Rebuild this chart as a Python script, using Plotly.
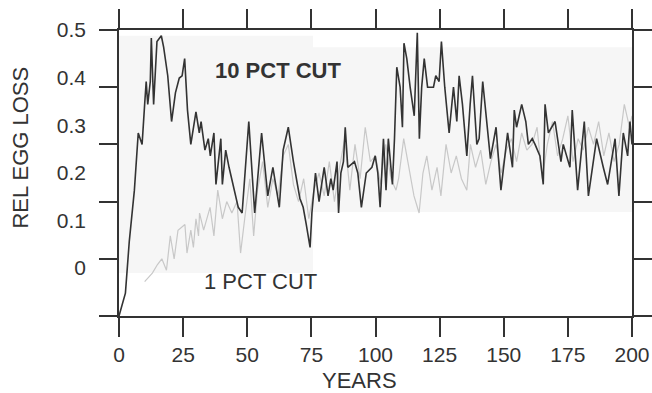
import plotly.graph_objects as go

# ---- data ----
years_10 = [0, 2.5, 4, 6, 7.5, 8.3, 9, 10, 10.6, 11.2, 12.2, 12.6, 13.5, 14.8, 16.5, 17.4, 19, 20.5, 22, 23.5,
            24.6, 25.6, 26.2, 26.7, 28, 30, 31.3, 32, 33.5, 34.8, 35.6, 37, 37.8, 39.7, 40.3, 41.6, 42.9, 44,
            46.5, 48, 50.6, 52.9, 55.6, 58, 60, 62.5, 64, 66, 68, 70.5, 71.8, 73, 74.5, 75.2, 76.6, 78, 80,
            81.5, 82.6, 83.5, 85, 85.6, 86.5, 87.5, 88.2, 89.2, 91.8, 93.1, 94.5, 96.4, 98.6, 99.9, 100.9,
            101.8, 103.1, 104.1, 105, 106.6, 107.4, 108.3, 109.6, 110.5, 111.1, 112.2, 113.5, 115.1, 116.3,
            117.1, 118, 119, 120.3, 121.9, 122.6, 123.5, 124.8, 125.7, 127, 128.7, 130.4, 131.7, 132.6, 133.9,
            135.6, 136.9, 137.8, 139.5, 140.4, 141.8, 144.8, 147, 148.9, 151.5, 153.4, 154.1, 155, 157, 158.6,
            159.6, 161.1, 162.2, 164.1, 165.4, 166.1, 167.4, 168.7, 170, 172.3, 173.2, 175.8, 176.7, 178.8,
            181.4, 183, 186.2, 188.8, 190.5, 193.4, 194.9, 196.6, 198.3, 199.2, 200]
loss_10 = [0, 0.04, 0.13, 0.22, 0.32, 0.31, 0.30, 0.37, 0.41, 0.37, 0.41, 0.486, 0.37, 0.48, 0.49, 0.47, 0.42,
           0.34, 0.39, 0.416, 0.42, 0.45, 0.41, 0.36, 0.30, 0.357, 0.32, 0.34, 0.29, 0.31, 0.28, 0.32, 0.23,
           0.31, 0.23, 0.29, 0.26, 0.24, 0.19, 0.18, 0.34, 0.18, 0.32, 0.21, 0.26, 0.19, 0.29, 0.33, 0.27,
           0.206, 0.19, 0.16, 0.12, 0.18, 0.25, 0.20, 0.26, 0.21, 0.24, 0.22, 0.27, 0.18, 0.25, 0.27, 0.33,
           0.26, 0.27, 0.25, 0.19, 0.25, 0.26, 0.28, 0.25, 0.19, 0.31, 0.22, 0.31, 0.23, 0.31, 0.435, 0.40,
           0.33, 0.477, 0.45, 0.40, 0.35, 0.495, 0.31, 0.40, 0.45, 0.40, 0.40, 0.40, 0.42, 0.41, 0.48, 0.40,
           0.32, 0.40, 0.34, 0.42, 0.37, 0.28, 0.37, 0.42, 0.30, 0.31, 0.41, 0.275, 0.33, 0.22, 0.32, 0.26,
           0.36, 0.33, 0.37, 0.34, 0.30, 0.31, 0.30, 0.28, 0.23, 0.37, 0.32, 0.33, 0.34, 0.27, 0.30, 0.26,
           0.36, 0.22, 0.34, 0.21, 0.31, 0.26, 0.23, 0.31, 0.21, 0.32, 0.28, 0.34, 0.30]

years_1 = [10, 13, 15, 16.7, 18.5, 20, 21.5, 23, 25.7, 26.5, 28, 29, 30, 31, 31.4, 33, 35.5, 37, 38.5, 40.3,
           42, 44, 46, 47.4, 49, 51, 52.5, 54, 56, 58, 60, 62, 64, 66, 68, 70, 72, 74, 76, 78, 80, 82, 84,
           86, 88, 90, 92, 94, 96, 98, 100, 102, 104, 106, 108, 109, 111, 113, 115, 117, 118.5, 120, 122,
           124, 125.5, 127.5, 129.5, 131.5, 133.5, 135.6, 137, 139, 141, 143, 145, 147, 149, 151, 153, 155,
           157, 159, 161, 163, 165, 167, 169, 171, 173, 175, 177, 179, 181, 183, 185, 187, 189, 191, 193,
           195, 197, 199, 200]
loss_1 = [0.06, 0.075, 0.09, 0.10, 0.08, 0.14, 0.10, 0.15, 0.16, 0.11, 0.15, 0.12, 0.17, 0.14, 0.18, 0.15,
          0.19, 0.14, 0.22, 0.17, 0.20, 0.18, 0.20, 0.11, 0.17, 0.24, 0.14, 0.22, 0.27, 0.19, 0.24, 0.21,
          0.28, 0.30, 0.23, 0.20, 0.24, 0.17, 0.22, 0.25, 0.21, 0.27, 0.20, 0.26, 0.31, 0.22, 0.30, 0.24,
          0.33, 0.27, 0.28, 0.23, 0.30, 0.24, 0.22, 0.24, 0.31, 0.26, 0.21, 0.18, 0.25, 0.28, 0.22, 0.26,
          0.21, 0.30, 0.25, 0.28, 0.24, 0.22, 0.30, 0.26, 0.29, 0.23, 0.27, 0.30, 0.25, 0.29, 0.31, 0.27,
          0.32, 0.29, 0.30, 0.33, 0.24, 0.30, 0.34, 0.28, 0.31, 0.35, 0.27, 0.31, 0.29, 0.33, 0.30, 0.34,
          0.28, 0.32, 0.27, 0.30, 0.37, 0.33, 0.35]

x_ticks = [0, 25, 50, 75, 100, 125, 150, 175, 200]
y_ticks = [0, 0.1, 0.2, 0.3, 0.4, 0.5]
y_tick_labels = ["0", "0.1", "0.2", "0.3", "0.4", "0.5"]

FONT = "Liberation Sans, Arial, sans-serif"
INK = "#333333"

fig = go.Figure()
fig.add_trace(go.Scatter(x=years_1, y=loss_1, mode="lines",
                         line=dict(color="#c8c8c8", width=1.2), showlegend=False, hoverinfo="skip"))
fig.add_trace(go.Scatter(x=years_10, y=loss_10, mode="lines",
                         line=dict(color="#333333", width=1.6), showlegend=False, hoverinfo="skip"))
# empty trace so the label axis (y2) is drawn
fig.add_trace(go.Scatter(x=[], y=[], yaxis="y2", showlegend=False, hoverinfo="skip"))

# faint scan-shading behind the curves
fig.add_shape(type="rect", xref="x", yref="y", x0=0, x1=200, y0=0.182, y1=0.47,
              fillcolor="#f6f6f6", line=dict(width=0), layer="below")
fig.add_shape(type="rect", xref="x", yref="y", x0=0, x1=75.6, y0=0.075, y1=0.49,
              fillcolor="#f6f6f6", line=dict(width=0), layer="below")

fig.add_annotation(x=0.31, y=0.86, xref="paper", yref="paper", text="<b>10 PCT CUT</b>",
                   xanchor="center", yanchor="middle",
                   showarrow=False, font=dict(family=FONT, size=22, color=INK))
fig.add_annotation(x=0.275, y=0.12, xref="paper", yref="paper", text="1 PCT CUT",
                   xanchor="center", yanchor="middle",
                   showarrow=False, font=dict(family=FONT, size=22, color=INK))
fig.add_annotation(x=-0.192, y=0.587, xref="paper", yref="paper", text="REL EGG LOSS",
                   xanchor="center", yanchor="middle",
                   textangle=-90, showarrow=False, font=dict(family=FONT, size=22, color=INK))
fig.add_annotation(x=0.469, y=-0.226, xref="paper", yref="paper", text="YEARS",
                   xanchor="center", yanchor="middle",
                   showarrow=False, font=dict(family=FONT, size=22, color=INK))

fig.update_layout(
    width=652, height=393,
    margin=dict(l=119, r=20, t=30, b=77),
    paper_bgcolor="white", plot_bgcolor="white",
    font=dict(family=FONT, size=21, color=INK),
    xaxis=dict(range=[0, 200], tickvals=x_ticks, ticks="outside", ticklen=19, tickwidth=1.5,
               tickcolor=INK, showline=True, linecolor=INK, linewidth=1.5, mirror="ticks",
               showgrid=False, zeroline=False, tickfont=dict(size=21, color=INK), automargin=False),
    yaxis=dict(range=[0, 0.5], tickvals=y_ticks, ticks="outside", ticklen=18, tickwidth=1.5,
               tickcolor=INK, showline=True, linecolor=INK, linewidth=1.5, mirror="ticks",
               showgrid=False, zeroline=False, showticklabels=False, automargin=False),
    yaxis2=dict(overlaying="y", side="left", range=[-0.1008, 0.5], tickvals=y_ticks,
                ticktext=y_tick_labels, ticks="", showline=False, showgrid=False,
                zeroline=False, ticklabelstandoff=32, tickfont=dict(size=21, color=INK),
                automargin=False),
)

fig.write_html("out.html", config={"displayModeBar": False},
               post_script="document.body.style.margin='0';")
